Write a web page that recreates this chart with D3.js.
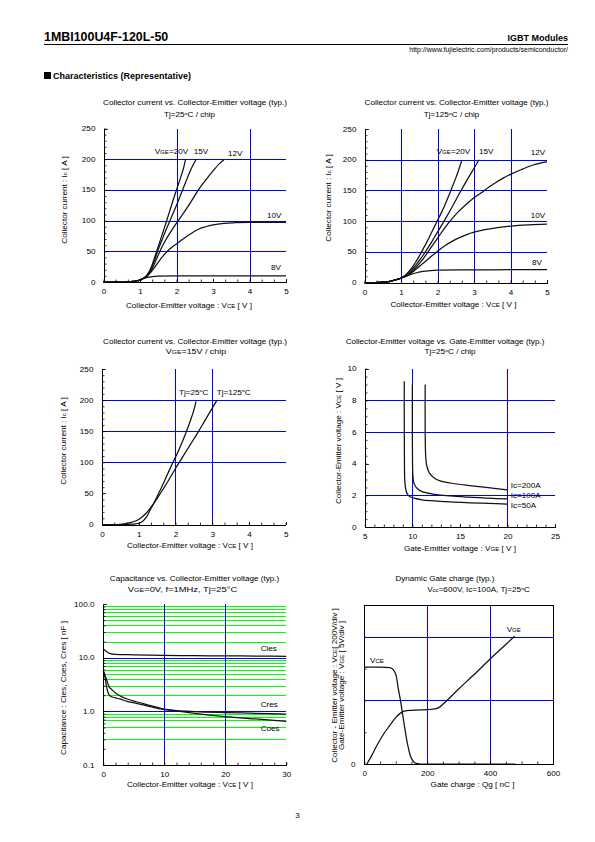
<!DOCTYPE html>
<html><head><meta charset="utf-8">
<script src="https://cdn.jsdelivr.net/npm/d3@7"></script>
<style>
body{margin:0;background:#fff}
svg{display:block}
text{font-family:"Liberation Sans",Arial,sans-serif;fill:#000}
</style>
</head><body>
<svg id="page" width="595" height="842"></svg>
<script>
// ---------------- DATA ----------------
// Chart 1: Ic vs VCE, Tj=25C (x: VCE [V], y: Ic [A])
const c1_vge20 = [[0,0],[0.5,0],[0.7,0.4],[0.9,1.5],[1.0,3],[1.1,6],[1.2,12],[1.3,23],[1.4,40],[1.5,58],[1.6,76],[1.7,94],[1.8,113],[1.9,132],[2.0,150],[2.1,168],[2.2,187],[2.25,200]];
const c1_vge15 = [[0,0],[0.5,0],[0.7,0.4],[0.9,1.5],[1.0,3],[1.1,6],[1.2,11],[1.3,21],[1.4,36],[1.5,53],[1.6,68],[1.7,83],[1.8,97],[1.9,111],[2.0,125],[2.1,140],[2.2,155],[2.3,170],[2.4,184],[2.54,200]];
const c1_vge12 = [[0,0],[0.5,0],[0.7,0.4],[0.9,1.5],[1.0,3],[1.1,6],[1.2,10],[1.3,18],[1.4,30],[1.5,44],[1.6,57],[1.7,68],[1.8,78],[1.9,87],[2.0,96],[2.2,113],[2.4,131],[2.6,150],[2.8,166],[3.0,181],[3.2,194],[3.3,199]];
const c1_vge10 = [[0,0],[0.5,0],[0.7,0.4],[0.9,1.5],[1.0,3],[1.1,6],[1.2,10],[1.3,16],[1.4,24],[1.5,32],[1.6,40],[1.7,47],[1.8,53],[1.9,58],[2.0,62],[2.2,71],[2.4,79],[2.6,86],[2.8,90],[3.0,93],[3.3,95.5],[3.6,96.5],[4.0,97],[5.0,97]];
const c1_vge8  = [[0,0],[0.5,0],[0.7,0.5],[0.9,2],[1.0,4],[1.1,6],[1.2,7.5],[1.3,8.5],[1.5,9.5],[2.0,10],[3.0,10],[4.0,10],[5.0,10]];
// Chart 2: Ic vs VCE, Tj=125C
const c2_vge20 = [[0,0],[0.3,0],[0.5,0.5],[0.7,2],[0.9,5],[1.0,7],[1.1,11],[1.2,17],[1.3,24],[1.4,33],[1.5,43],[1.6,54],[1.7,65],[1.8,77],[1.9,89],[2.0,101],[2.1,113],[2.2,126],[2.3,140],[2.4,155],[2.5,170],[2.6,187],[2.66,198]];
const c2_vge15 = [[0,0],[0.3,0],[0.5,0.5],[0.7,2],[0.9,5],[1.0,7],[1.1,10.5],[1.2,15],[1.3,21],[1.4,28],[1.5,36],[1.6,44],[1.7,53],[1.8,62],[1.9,72],[2.0,82],[2.2,102],[2.4,123],[2.6,145],[2.8,166],[3.0,186],[3.14,200]];
const c2_vge12 = [[0,0],[0.3,0],[0.5,0.5],[0.7,2],[0.9,5],[1.0,7],[1.2,13],[1.4,24],[1.6,38],[1.8,55],[2.0,72],[2.2,89],[2.4,104],[2.6,117],[2.8,128],[3.0,138],[3.2,146],[3.4,155],[3.6,163],[3.8,170],[4.0,176],[4.3,184],[4.6,191],[5.0,197]];
const c2_vge10 = [[0,0],[0.3,0],[0.5,0.5],[0.7,2],[0.9,5],[1.0,7],[1.2,12],[1.4,21],[1.6,31],[1.8,41],[2.0,51],[2.2,60],[2.4,67],[2.6,73],[2.8,78],[3.0,82],[3.3,86],[3.6,89],[4.0,92],[4.5,94],[5.0,95]];
const c2_vge8  = [[0,0],[0.3,0],[0.5,0.5],[0.7,2],[0.9,5],[1.0,7],[1.2,11.5],[1.4,15.5],[1.6,18],[1.8,19.3],[2.0,20],[3.0,20.5],[4.0,20.8],[5.0,21]];
// Chart 3: Ic vs VCE, VGE=15V
const c3_tj25  = [[0,0],[0.6,0],[0.8,0.5],[0.9,1],[1.0,2],[1.1,5],[1.2,11],[1.3,22],[1.4,33],[1.5,45],[1.6,57],[1.7,70],[1.8,83],[1.9,96],[2.0,108],[2.1,121],[2.2,135],[2.3,150],[2.4,166],[2.5,184],[2.56,198]];
const c3_tj125 = [[0,0],[0.4,0],[0.6,1],[0.8,3.5],[1.0,8],[1.2,18],[1.4,33],[1.6,51],[1.8,70],[2.0,90],[2.2,109],[2.4,128],[2.6,147],[2.8,167],[3.0,187],[3.13,200]];
// Chart 4: VCE vs VGE, Tj=25C (x: VGE [V], y: VCE [V])
const c4_ic50  = [[9.15,9.2],[9.15,7],[9.17,4],[9.2,3],[9.3,2.4],[9.5,2.05],[9.8,1.9],[10.2,1.82],[11,1.72],[12,1.66],[14,1.58],[16,1.53],[18,1.49],[20,1.45]];
const c4_ic100 = [[10.0,9.0],[10.0,6],[10.02,4],[10.05,3.3],[10.15,2.8],[10.4,2.5],[10.8,2.3],[11.5,2.15],[12.5,2.05],[14,1.97],[16,1.88],[18,1.82],[20,1.77]];
const c4_ic200 = [[11.35,9.0],[11.35,6],[11.4,4.5],[11.5,3.9],[11.8,3.4],[12.3,3.1],[13,2.9],[14,2.78],[16,2.62],[18,2.48],[20,2.35]];
// Chart 5: capacitance [nF] vs VCE [V]
const c5_cies = [[0,14.5],[0.5,13],[1,12],[2,11.5],[5,11.3],[10,11.0],[15,10.9],[20,10.8],[25,10.7],[30,10.6]];
const c5_cres = [[0,5.7],[0.3,4.2],[0.5,3.0],[0.8,2.2],[1.05,1.95],[2,1.78],[2.7,1.7],[4,1.52],[5.4,1.41],[7,1.28],[10,1.08],[12,1.03],[15,0.99],[20,0.95],[25,0.92],[30,0.89]];
const c5_coes = [[0,5.7],[0.5,4.0],[1.0,2.8],[1.3,2.6],[2,2.2],[2.7,1.95],[4,1.68],[5.4,1.51],[7,1.35],[10,1.1],[12,1.02],[15,0.92],[20,0.80],[25,0.72],[30,0.65]];
// Chart 6: dynamic gate charge (x: Qg [nC]; VCE [V]; VGE [V])
const c6_vce = [[0,610],[40,609],[80,606],[90,598],[96,582],[102,550],[108,475],[115,400],[122,310],[130,210],[138,120],[146,55],[155,18],[165,4],[180,0],[480,0]];
const c6_vge = [[8,0],[20,1.0],[40,2.9],[60,4.6],[80,6.0],[100,7.3],[115,8.0],[130,8.35],[150,8.45],[200,8.55],[225,8.65],[238,8.9],[250,9.4],[300,11.8],[350,14.1],[400,16.5],[450,18.8],[478,20.1]];

// tick values
const vceTicks = [0,1,2,3,4,5];
const icTicks = [0,50,100,150,200,250];
const vgeTicks4 = [5,10,15,20,25];
const vceTicks4 = [0,2,4,6,8,10];
const vceTicks5 = [0,10,20,30];
const capTicks = [0.1,1,10,100];
const capMinor = [0.2,0.3,0.4,0.5,0.6,0.7,0.8,0.9,2,3,4,5,6,7,8,9,20,30,40,50,60,70,80,90];
const capGreen = [0.3,0.5,0.7,0.8,0.9,2,3,4,5,6,7,8,9,20,30,40,50,60,70,80,90];
const qgTicks = [0,200,400,600];

// ---------------- DRAW ----------------
const svg = d3.select("#page");
const FS = 6.4, SX = 1.27;
const px = v => Math.round(v) + 0.5;

function rich(t, parts, size){
  let pend = 0;
  for (const p of parts){
    const s = t.append("tspan");
    if (typeof p === "string") { s.text(p); if (pend) { s.attr("dy", pend); pend = 0; } }
    else if (p.s) { s.text(p.s).attr("font-size", size*0.75); if (pend) { s.attr("dy", pend); pend = 0; } }
    else if (p.p) { s.text(p.p).attr("font-size", size*0.68).attr("dy", -size*0.42); pend = size*0.42; }
  }
}
function label(g, x, y, parts, o={}){
  const size = o.size ?? FS, sx = o.sx ?? SX;
  const t = g.append("text")
    .attr("transform", `translate(${x},${y})` + (o.rot ? ` rotate(${o.rot})` : "") + ` scale(${sx},1)`)
    .attr("font-size", size).attr("text-anchor", o.anchor ?? "start");
  if (o.bold) t.attr("font-weight", "bold");
  rich(t, typeof parts === "string" ? [parts] : parts, size);
  return t;
}
const cy = (c, size=FS) => c + size*0.36; // centre -> baseline

function range(a, b, step){ const r=[]; for (let v=a; v<=b+1e-9; v+=step) r.push(+v.toFixed(6)); return r; }

function chart(c){
  const g = svg.append("g");
  const x = d3.scaleLinear().domain(c.xd).range([c.x0, c.x1]);
  const y = (c.log ? d3.scaleLog() : d3.scaleLinear()).domain(c.yd).range([c.y0, c.y1]);
  const grid = g.append("g").attr("shape-rendering","crispEdges");
  if (c.greenY) grid.selectAll(null).data(c.greenY).join("line")
      .attr("x1", c.x0).attr("x2", c.x1).attr("y1", d=>px(y(d))).attr("y2", d=>px(y(d)))
      .attr("stroke", "#00ff00").attr("stroke-width", 1);
  grid.selectAll(null).data(c.gridY).join("line")
      .attr("x1", c.x0).attr("x2", c.x1).attr("y1", d=>px(y(d))).attr("y2", d=>px(y(d)))
      .attr("stroke", "#0000ff").attr("stroke-width", 1);
  grid.selectAll(null).data(c.gridX).join("line")
      .attr("x1", d=>px(x(d))).attr("x2", d=>px(x(d))).attr("y1", c.y0).attr("y2", c.y1)
      .attr("stroke", "#0000ff").attr("stroke-width", 1);
  if (c.box) g.append("rect").attr("x", px(c.x0)).attr("y", px(c.y1)).attr("width", Math.round(c.x1-c.x0)).attr("height", Math.round(c.y0-c.y1))
      .attr("fill","none").attr("stroke","#000").attr("shape-rendering","crispEdges");
  // curves
  for (const s of c.series){
    const ys = s.scale ? s.scale : y;
    const line = d3.line().x(d=>x(d[0])).y(d=>ys(d[1])).curve(s.curve || d3.curveMonotoneX);
    g.append("path").datum(s.data).attr("d", line).attr("fill","none")
      .attr("stroke","#111").attr("stroke-width",1.25).attr("stroke-linejoin","round");
  }
  // axes
  const styleAx = a => { a.attr("font-size", FS).attr("font-family", null).attr("shape-rendering","crispEdges");
    a.selectAll("text").attr("transform", `scale(${SX},1)`); };
  const X0 = Math.round(c.x0), Y0 = Math.round(c.y0);
  const bx = g.append("g").attr("transform", `translate(0,${Y0})`);
  bx.call(d3.axisBottom(x).tickValues(c.xMinor).tickSize(-2.5).tickSizeOuter(0).tickFormat(""));
  bx.select(".domain").remove();
  const bx2 = g.append("g").attr("transform", `translate(0,${Y0})`);
  bx2.call(d3.axisBottom(x).tickValues(c.xTicks).tickSize(-3.5).tickSizeOuter(0).tickPadding(7.4).tickFormat(c.xFmt || d3.format("d")));
  styleAx(bx2);
  const ly = g.append("g").attr("transform", `translate(${X0},0)`);
  ly.call(d3.axisLeft(y).tickValues(c.yMinor).tickSize(-2.5).tickSizeOuter(0).tickFormat(""));
  ly.select(".domain").remove();
  const ly2 = g.append("g").attr("transform", `translate(${X0},0)`);
  ly2.call(d3.axisLeft(y).tickValues(c.yTicks).tickSize(-3.5).tickSizeOuter(0).tickPadding(8.6/SX).tickFormat(c.yFmt || d3.format("d")));
  styleAx(ly2);
  g.selectAll(".tick line").attr("stroke-width", 0.8);
  return {g, x, y};
}

// ---------- header ----------
const hdr = svg.append("g");
label(hdr, 44, 41, "1MBI100U4F-120L-50", {size:13.5, bold:true, sx:0.92});
hdr.append("line").attr("x1",44).attr("x2",568).attr("y1",44.5).attr("y2",44.5).attr("stroke","#000").attr("stroke-width",1).attr("shape-rendering","crispEdges");
label(hdr, 568, 41, "IGBT Modules", {size:9, bold:true, anchor:"end", sx:1.0});
label(hdr, 568, 52, "http://www.fujielectric.com/products/semiconductor/", {size:7, anchor:"end", sx:1.0});
hdr.append("rect").attr("x",44).attr("y",72).attr("width",7).attr("height",7).attr("fill","#000");
label(hdr, 53, 79, "Characteristics (Representative)", {size:9, bold:true, sx:1.0});
label(hdr, 297.5, 818, "3", {size:8, anchor:"middle", sx:1.0});

// ---------- chart 1 ----------
{
  const c = chart({x0:103.5, x1:286, y0:282, y1:128.5, xd:[0,5], yd:[0,250],
    gridX:[2,4], gridY:[50,100,150,200], xTicks:vceTicks, yTicks:icTicks,
    xMinor:range(0,5,1/3), yMinor:range(0,250,10),
    series:[{data:c1_vge20},{data:c1_vge15},{data:c1_vge12},{data:c1_vge10},{data:c1_vge8}]});
  label(c.g, 195, cy(102.3), "Collector current vs. Collector-Emitter voltage (typ.)", {anchor:"middle"});
  label(c.g, 189.5, cy(115), ["Tj=25",{p:"o"},"C / chip"], {anchor:"middle"});
  label(c.g, 67.3, 200, ["Collector current : I",{s:"c"}," [ A ]"], {anchor:"middle", rot:-90});
  label(c.g, 189, cy(305.5), ["Collector-Emitter voltage : V",{s:"CE"}," [ V ]"], {anchor:"middle"});
  label(c.g, 154.7, cy(151.3), ["V",{s:"GE"},"=20V"]);
  label(c.g, 193.7, cy(151.3), "15V");
  label(c.g, 228, cy(153.7), "12V");
  label(c.g, 267, cy(215.3), "10V");
  label(c.g, 271, cy(267.3), "8V");
}
// ---------- chart 2 ----------
{
  const c = chart({x0:364.5, x1:547, y0:282.5, y1:129, xd:[0,5], yd:[0,250],
    gridX:[1,2,3,4], gridY:[50,100,150,200], xTicks:vceTicks, yTicks:icTicks,
    xMinor:range(0,5,1/3), yMinor:range(0,250,10),
    series:[{data:c2_vge20},{data:c2_vge15},{data:c2_vge12},{data:c2_vge10},{data:c2_vge8}]});
  label(c.g, 456.5, cy(102.3), "Collector current vs. Collector-Emitter voltage (typ.)", {anchor:"middle"});
  label(c.g, 451.5, cy(115), ["Tj=125",{p:"o"},"C / chip"], {anchor:"middle"});
  label(c.g, 330.6, 198, ["Collector current : I",{s:"c"}," [ A ]"], {anchor:"middle", rot:-90});
  label(c.g, 453.5, cy(304.5), ["Collector-Emitter voltage : V",{s:"CE"}," [ V ]"], {anchor:"middle"});
  label(c.g, 436.7, cy(151.3), ["V",{s:"GE"},"=20V"]);
  label(c.g, 479, cy(151.3), "15V");
  label(c.g, 530.7, cy(153), "12V");
  label(c.g, 530.7, cy(215.3), "10V");
  label(c.g, 532, cy(263), "8V");
}
// ---------- chart 3 ----------
{
  const c = chart({x0:102, x1:285.7, y0:524.5, y1:369, xd:[0,5], yd:[0,250],
    gridX:[2,3], gridY:[100,150,200], xTicks:vceTicks, yTicks:icTicks,
    xMinor:range(0,5,1/3), yMinor:range(0,250,10),
    series:[{data:c3_tj25},{data:c3_tj125}]});
  label(c.g, 195, cy(341.7), "Collector current vs. Collector-Emitter voltage (typ.)", {anchor:"middle"});
  label(c.g, 196, cy(351.7, 7), ["V",{s:"GE"},"=15V / chip"], {anchor:"middle", size:7});
  label(c.g, 65.6, 441, ["Collector current : I",{s:"c"}," [ A ]"], {anchor:"middle", rot:-90});
  label(c.g, 190, cy(546), ["Collector-Emitter voltage : V",{s:"CE"}," [ V ]"], {anchor:"middle"});
  label(c.g, 179, cy(392.3), ["Tj=25",{p:"o"},"C"]);
  label(c.g, 216.7, cy(392.3), ["Tj=125",{p:"o"},"C"]);
}
// ---------- chart 4 ----------
{
  const cr = d3.curveCatmullRom.alpha(0.5);
  const c = chart({x0:364.8, x1:555, y0:527, y1:368.7, xd:[5,25], yd:[0,10],
    gridX:[10,20], gridY:[2,6,8], xTicks:vgeTicks4, yTicks:vceTicks4,
    xMinor:range(5,25,1), yMinor:range(0,10,0.5),
    series:[{data:c4_ic50, curve:cr},{data:c4_ic100, curve:cr},{data:c4_ic200, curve:cr}]});
  label(c.g, 445, cy(341.7), "Collector-Emitter voltage vs. Gate-Emitter voltage (typ.)", {anchor:"middle"});
  label(c.g, 450, cy(352), ["Tj=25",{p:"o"},"C / chip"], {anchor:"middle"});
  label(c.g, 340.6, 441, ["Collector-Emitter voltage : V",{s:"CE"}," [ V ]"], {anchor:"middle", rot:-90});
  label(c.g, 460, cy(549), ["Gate-Emitter voltage : V",{s:"GE"}," [ V ]"], {anchor:"middle"});
  label(c.g, 510.7, cy(486), "Ic=200A");
  label(c.g, 510.7, cy(496), "Ic=100A");
  label(c.g, 510.7, cy(505.3), "Ic=50A");
}
// ---------- chart 5 ----------
{
  const c = chart({x0:103.3, x1:286.3, y0:765, y1:604, xd:[0,30], yd:[0.1,100], log:true,
    greenY:capGreen, gridX:[10,20], gridY:[1,10], xTicks:vceTicks5, yTicks:capTicks,
    xMinor:range(0,30,2), yMinor:capMinor, yFmt:d3.format(".1f"),
    series:[{data:c5_cies},{data:c5_cres},{data:c5_coes}]});
  label(c.g, 194.5, cy(578.3), "Capacitance  vs.  Collector-Emitter voltage  (typ.)", {anchor:"middle"});
  label(c.g, 182.5, cy(589, 7.4), ["V",{s:"GE"},"=0V, f=1MHz, Tj=25°C"], {anchor:"middle", size:7.4});
  label(c.g, 65.6, 688, "Capacitance : Cies, Coes, Cres [ nF ]", {anchor:"middle", rot:-90});
  label(c.g, 190, cy(785), ["Collector-Emitter voltage : V",{s:"CE"}," [ V ]"], {anchor:"middle"});
  label(c.g, 260.7, cy(648.3), "Cies");
  label(c.g, 260.7, cy(705), "Cres");
  label(c.g, 260.7, cy(728.3), "Coes");
}
// ---------- chart 6 ----------
{
  const yG = d3.scaleLinear().domain([0,25]).range([764,605]);
  const c = chart({x0:364.3, x1:553, y0:764, y1:605, xd:[0,600], yd:[0,1000], box:true,
    gridX:[200,400], gridY:[400,800], xTicks:qgTicks, yTicks:[0],
    xMinor:range(0,600,50), yMinor:range(0,1000,200),
    series:[{data:c6_vce},{data:c6_vge, scale:yG}]});
  label(c.g, 445, cy(578.3), "Dynamic Gate charge  (typ.)", {anchor:"middle"});
  label(c.g, 478.5, cy(590), ["V",{s:"cc"},"=600V, Ic=100A, Tj=25",{p:"o"},"C"], {anchor:"middle"});
  label(c.g, 337.3, 685.5, ["Collector - Emitter voltage : V",{s:"CE"},"[ 200V/div ]"], {anchor:"middle", rot:-90});
  label(c.g, 344, 685.5, ["Gate-Emitter voltage : V",{s:"GE"}," [ 5V/div ]"], {anchor:"middle", rot:-90});
  label(c.g, 472.5, cy(785), "Gate charge : Qg [ nC ]", {anchor:"middle"});
  label(c.g, 506.7, cy(630), ["V",{s:"GE"}]);
  label(c.g, 370, cy(660.7), ["V",{s:"CE"}]);
}
</script>
</body></html>
